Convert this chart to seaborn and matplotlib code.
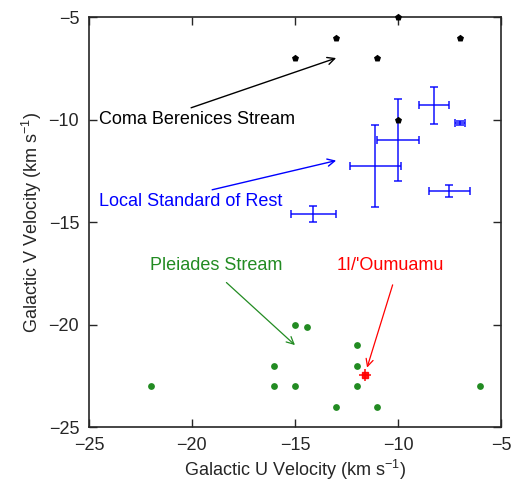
import matplotlib
matplotlib.use("Agg")
import matplotlib.pyplot as plt
import seaborn as sns
import pandas as pd

# Coma Berenices Stream
coma_u = [-10, -13, -15, -11, -7, -10]
coma_v = [-5, -6, -7, -7, -6, -10]

# Local Standard of Rest estimates
lsr_u = [-8.25, -7.0, -10.0, -11.1, -7.5, -14.1]
lsr_v = [-9.3, -10.15, -11.0, -12.25, -13.5, -14.6]
lsr_uerr = [0.75, 0.25, 1.0, 1.25, 1.0, 1.1]
lsr_verr = [0.9, 0.1, 2.0, 2.0, 0.3, 0.4]

# Pleiades Stream
pleiades_u = [-22, -16, -16, -15, -14.4, -15, -12, -12, -12, -13, -11, -6]
pleiades_v = [-23, -22, -23, -20, -20.1, -23, -21, -22, -23, -24, -24, -23]

# 1I/'Oumuamua
oumuamua_u = [-11.6]
oumuamua_v = [-22.45]
oumuamua_uerr = [0.3]
oumuamua_verr = [0.3]

sns.set_style("ticks")
plt.rcParams["font.family"] = ["Liberation Sans", "DejaVu Sans"]
plt.rcParams["mathtext.fontset"] = "custom"
plt.rcParams["mathtext.rm"] = "Liberation Sans"

fig = plt.figure(figsize=(5.17, 4.87), dpi=100)
ax = fig.add_axes([0.172, 0.123, 0.797, 0.842])

coma = pd.DataFrame({"U": coma_u, "V": coma_v})
pleiades = pd.DataFrame({"U": pleiades_u, "V": pleiades_v})

sns.scatterplot(data=coma, x="U", y="V", ax=ax, color="black", marker="p",
                s=28, edgecolor="black", linewidth=0, clip_on=False, zorder=4)
sns.scatterplot(data=pleiades, x="U", y="V", ax=ax, color="#228b22", marker="o",
                s=24, edgecolor="#228b22", linewidth=0, zorder=4)

ax.errorbar(lsr_u, lsr_v, xerr=lsr_uerr, yerr=lsr_verr, fmt="none",
            ecolor="blue", elinewidth=1.2, capsize=3, capthick=1.2, alpha=0.85, zorder=3)
ax.errorbar(oumuamua_u, oumuamua_v, xerr=oumuamua_uerr, yerr=oumuamua_verr,
            fmt="s", color="red", markersize=5, elinewidth=1.2, capsize=0, alpha=0.9, zorder=5)

fs = 13
ax.annotate("Coma Berenices Stream", xy=(-13, -7), xytext=(-24.5, -10),
            fontsize=fs, color="black", ha="left", va="center",
            arrowprops=dict(arrowstyle="->", color="black", lw=1.0,
                            shrinkA=0, shrinkB=0, relpos=(0.42, 1.0)))
ax.annotate("Local Standard of Rest", xy=(-13, -12), xytext=(-24.5, -14),
            fontsize=fs, color="blue", ha="left", va="center",
            arrowprops=dict(arrowstyle="->", color="blue", lw=1.0,
                            shrinkA=0, shrinkB=0, relpos=(0.54, 1.0)))
ax.annotate("Pleiades Stream", xy=(-15, -21), xytext=(-18.8, -17.1),
            fontsize=fs, color="#228b22", ha="center", va="center",
            arrowprops=dict(arrowstyle="->", color="#228b22", lw=0.9,
                            shrinkA=6, shrinkB=0, relpos=(0.5, 0.0)))
ax.annotate("1I/'Oumuamu", xy=(-11.5, -22.1), xytext=(-10.35, -17.1),
            fontsize=fs, color="red", ha="center", va="center",
            arrowprops=dict(arrowstyle="->", color="red", lw=0.9,
                            shrinkA=6, shrinkB=0, relpos=(0.55, 0.0)))

ax.set_xlim(-25, -5)
ax.set_ylim(-25, -5)
ax.set_xticks([-25, -20, -15, -10, -5])
ax.set_yticks([-25, -20, -15, -10, -5])
ax.tick_params(direction="in", top=True, right=True, length=6, width=1,
               labelsize=fs, pad=7)
for sp in ax.spines.values():
    sp.set_linewidth(1.2)
    sp.set_visible(True)

ax.set_xlabel("Galactic U Velocity (km s$^{-1}$)", fontsize=fs, labelpad=3)
ax.set_ylabel("Galactic V Velocity (km s$^{-1}$)", fontsize=fs, labelpad=3)

fig.savefig("out.png", dpi=100)
